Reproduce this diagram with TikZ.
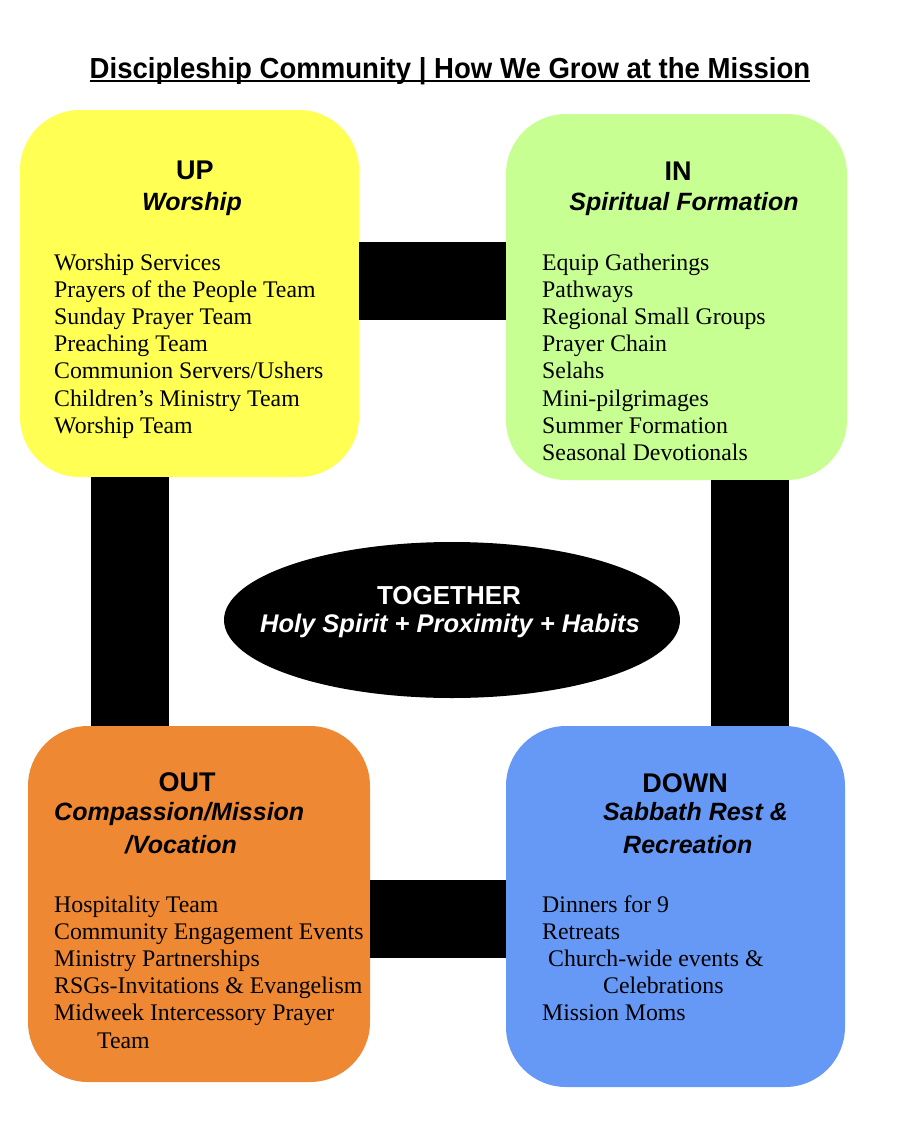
\documentclass[tikz,border=0pt]{standalone}
\usepackage{fontspec}
\setmainfont{Liberation Serif}
\setsansfont{Liberation Sans}
\newfontfamily\titlefont[FakeStretch=0.95]{Liberation Sans}
\usetikzlibrary{shapes.geometric}
\definecolor{upyellow}{RGB}{255,255,84}
\definecolor{ingreen}{RGB}{199,255,146}
\definecolor{outorange}{RGB}{239,136,51}
\definecolor{downblue}{RGB}{102,153,245}
\newcommand{\itemfont}{\fontsize{23.8}{27}\selectfont}
\newcommand{\headfont}{\sffamily\bfseries\fontsize{27}{30}\selectfont}
\newcommand{\subfont}{\sffamily\bfseries\itshape\fontsize{25}{28}\selectfont}
\begin{document}
\begin{tikzpicture}[x=1pt,y=-1pt,
  box/.style={rounded corners=60pt,inner sep=0pt,minimum width=#1},
  head/.style={font=\headfont,anchor=base,inner sep=0pt},
  sub/.style={font=\subfont,anchor=base,inner sep=0pt},
  item/.style={font=\itemfont,anchor=base west,inner sep=0pt},
  bar/.style={line width=78pt,black}]
\useasboundingbox (0,0) rectangle (906,1138);
\node[font=\titlefont\bfseries\fontsize{29}{32}\selectfont,anchor=base,inner sep=0pt] (title) at (450,78) {Discipleship Community | How We Grow at the Mission};
\draw[line width=2pt] ([yshift=-3pt]title.base west) -- ([yshift=-3pt]title.base east);
% the four boxes
\node[box=339pt,minimum height=367pt,fill=upyellow] (up) at (189.5,293.5) {};
\node[box=341pt,minimum height=366pt,fill=ingreen] (in) at (676.5,297) {};
\node[box=342pt,minimum height=356pt,fill=outorange] (out) at (199,904) {};
\node[box=339pt,minimum height=361pt,fill=downblue] (down) at (675.5,906.5) {};
% bars between them
\draw[bar] ([yshift=13pt]up.east) -- ([yshift=16.5pt]in.west);
\draw[bar] ([xshift=-60pt]up.south) -- ([xshift=-69.5pt]out.north);
\draw[bar] ([xshift=73pt]in.south) -- ([xshift=74pt]down.north);
\draw[bar] ([yshift=-14.5pt]out.east) -- ([yshift=-12pt]down.west);
% centre
\node[ellipse,fill=black,inner sep=0pt,minimum width=456pt,minimum height=156pt] (together) at (452,620) {};
\node[head,text=white,font=\sffamily\bfseries\fontsize{26}{29}\selectfont] (tg) at (449,604) {TOGETHER};
\node[sub,text=white,font=\sffamily\bfseries\itshape\fontsize{25.5}{28}\selectfont] (tgsub) at (450,632) {Holy Spirit + Proximity + Habits};
% UP
\node[head] (uphead) at (195,179) {UP};
\node[sub] (upsub) at (192,210) {Worship};
\foreach \txt [count=\i] in {Worship Services,Prayers of the People Team,Sunday Prayer Team,Preaching Team,Communion Servers/Ushers,Children's Ministry Team,Worship Team}
  \node[item] (up-\i) at (54,{242.8+27.2*\i}) {\txt};
% IN
\node[head] (inhead) at (678,180) {IN};
\node[sub] (insub) at (684,210) {Spiritual Formation};
\foreach \txt [count=\i] in {Equip Gatherings,Pathways,Regional Small Groups,Prayer Chain,Selahs,Mini-pilgrimages,Summer Formation,Seasonal Devotionals}
  \node[item] (in-\i) at (542,{242.8+27.2*\i}) {\txt};
% OUT
\node[head] (outhead) at (187,791) {OUT};
\node[sub,anchor=base west] (outsub) at (54,820) {Compassion/Mission};
\node[sub,anchor=base west] (outsub2) at (125,853) {/Vocation};
\foreach \txt [count=\i] in {Hospitality Team,Community Engagement Events,Ministry Partnerships,RSGs-Invitations \& Evangelism,Midweek Intercessory Prayer,\hspace*{43pt}Team}
  \node[item] (out-\i) at (54,{884.8+27.2*\i}) {\txt};
% DOWN
\node[head] (downhead) at (685,792) {DOWN};
\node[sub,anchor=base west] (downsub) at (603,820) {Sabbath Rest \&};
\node[sub,anchor=base west] (downsub2) at (623,853) {Recreation};
\foreach \txt [count=\i] in {Dinners for 9,Retreats,\hspace*{6pt}Church-wide events \&,\hspace*{61pt}Celebrations,Mission Moms}
  \node[item] (down-\i) at (542,{884.8+27.2*\i}) {\txt};
\end{tikzpicture}
\end{document}
